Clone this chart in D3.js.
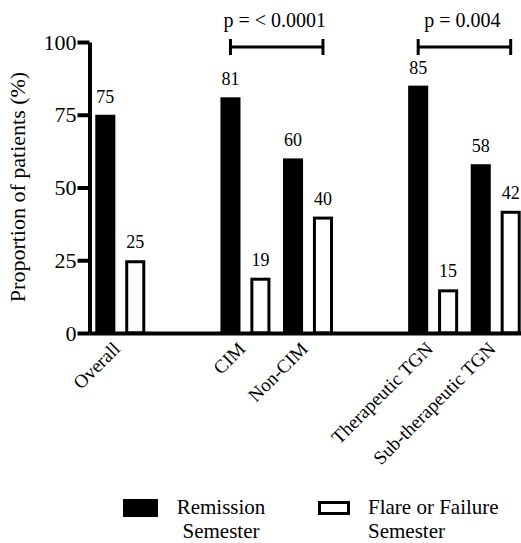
<!DOCTYPE html>
<html>
<head>
<meta charset="utf-8">
<script src="https://cdn.jsdelivr.net/npm/d3@7"></script>
<style>
  body { margin: 0; background: #fff; }
  svg { display: block; }
  svg text { font-family: "Liberation Serif", Tinos, "DejaVu Serif", "Noto Serif", serif; }
</style>
</head>
<body>
<svg id="chart" width="521" height="543"></svg>
<script>
// data
const categories = ["Overall", "CIM", "Non-CIM", "Therapeutic TGN", "Sub-therapeutic TGN"];
// empty slots keep the gaps between the three blocks
const slots = ["Overall", "gap1", "CIM", "Non-CIM", "gap2", "Therapeutic TGN", "Sub-therapeutic TGN"];
const remission = [75, 81, 60, 85, 58];
const flare = [25, 19, 40, 15, 42];
const yTicks = [0, 25, 50, 75, 100];
const comparisons = [
  { from: "CIM", to: "Non-CIM", label: "p = < 0.0001" },
  { from: "Therapeutic TGN", to: "Sub-therapeutic TGN", label: "p = 0.004" }
];
const legendLabels = [["Remission", "Semester"], ["Flare or Failure", "Semester"]];

const svg = d3.select("#chart");

const y = d3.scaleLinear().domain([0, 100]).range([333, 42]);
const x = d3.scaleBand().domain(slots).range([89, 527]);
const xSub = d3.scaleBand()
  .domain(["remission", "flare"])
  .range([0, x.bandwidth()])
  .paddingInner(0.33)
  .paddingOuter(0.21);

const rows = categories.map((c, i) => ({ cat: c, remission: remission[i], flare: flare[i] }));

// bars
const groups = svg.selectAll(".grp")
  .data(rows)
  .enter()
  .append("g")
  .attr("class", "grp")
  .attr("transform", d => `translate(${x(d.cat)},0)`);

groups.append("rect")
  .attr("x", xSub("remission"))
  .attr("y", d => y(d.remission))
  .attr("width", xSub.bandwidth())
  .attr("height", d => y(0) - y(d.remission))
  .attr("fill", "#000");

groups.append("rect")
  .attr("x", xSub("flare") + 1.5)
  .attr("y", d => y(d.flare) + 1.5)
  .attr("width", xSub.bandwidth() - 3)
  .attr("height", d => y(0) - y(d.flare) - 1.5)
  .attr("fill", "#fff")
  .attr("stroke", "#000")
  .attr("stroke-width", 3);

// value labels
groups.append("text")
  .attr("x", xSub("remission") + xSub.bandwidth() / 2)
  .attr("y", d => y(d.remission) - 12)
  .attr("text-anchor", "middle")
  .attr("font-size", 18)
  .text(d => d.remission);

groups.append("text")
  .attr("x", xSub("flare") + xSub.bandwidth() / 2)
  .attr("y", d => y(d.flare) - 12)
  .attr("text-anchor", "middle")
  .attr("font-size", 18)
  .text(d => d.flare);

// y axis
const yAxis = svg.append("g")
  .attr("transform", "translate(89.5,0)")
  .call(d3.axisLeft(y).tickValues(yTicks).tickSize(12).tickSizeOuter(0).tickPadding(1));
yAxis.attr("font-family", null);
yAxis.select(".domain").attr("stroke-width", 4);
yAxis.selectAll(".tick line").attr("stroke-width", 4);
yAxis.selectAll(".tick text")
  .attr("font-size", 22)
  .attr("fill", "#000");

// x axis
const xAxis = svg.append("g")
  .attr("transform", `translate(0,${y(0)})`)
  .call(d3.axisBottom(x).tickValues(categories).tickSize(0).tickSizeOuter(0));
xAxis.attr("font-family", null);
xAxis.select(".domain").attr("stroke-width", 4);
xAxis.selectAll(".tick text")
  .attr("font-size", 19)
  .attr("fill", "#000")
  .attr("text-anchor", "end")
  .attr("y", 0)
  .attr("dy", 0)
  .attr("transform", "translate(1,17) rotate(-45)");

// y title
svg.append("text")
  .attr("transform", "translate(25,187) rotate(-90)")
  .attr("text-anchor", "middle")
  .attr("font-size", 22)
  .text("Proportion of patients (%)");

// significance brackets
comparisons.forEach(c => {
  const x1 = x(c.from) + xSub("remission") + xSub.bandwidth() / 2;
  const x2 = x(c.to) + xSub("flare") + xSub.bandwidth() / 2;
  const by = 47;
  const g = svg.append("g").attr("stroke", "#000").attr("stroke-width", 3);
  g.append("line").attr("x1", x1).attr("x2", x2).attr("y1", by).attr("y2", by);
  g.append("line").attr("x1", x1).attr("x2", x1).attr("y1", by - 8).attr("y2", by + 8);
  g.append("line").attr("x1", x2).attr("x2", x2).attr("y1", by - 8).attr("y2", by + 8);
  svg.append("text")
    .attr("x", (x1 + x2) / 2 - 2)
    .attr("y", 27)
    .attr("text-anchor", "middle")
    .attr("font-size", 20)
    .text(c.label);
});

// legend
const leg0 = svg.append("g");
leg0.append("rect").attr("x", 123).attr("y", 499).attr("width", 35).attr("height", 18).attr("fill", "#000");
leg0.selectAll("text")
  .data(legendLabels[0])
  .enter()
  .append("text")
  .attr("x", 221)
  .attr("y", (d, i) => 514 + i * 24)
  .attr("text-anchor", "middle")
  .attr("font-size", 21)
  .text(d => d);

const leg1 = svg.append("g");
leg1.append("rect").attr("x", 319.5).attr("y", 502.5).attr("width", 29).attr("height", 11)
  .attr("fill", "#fff").attr("stroke", "#000").attr("stroke-width", 3);
leg1.selectAll("text")
  .data(legendLabels[1])
  .enter()
  .append("text")
  .attr("x", 368)
  .attr("y", (d, i) => 514 + i * 24)
  .attr("font-size", 21)
  .text(d => d);
</script>
</body>
</html>
